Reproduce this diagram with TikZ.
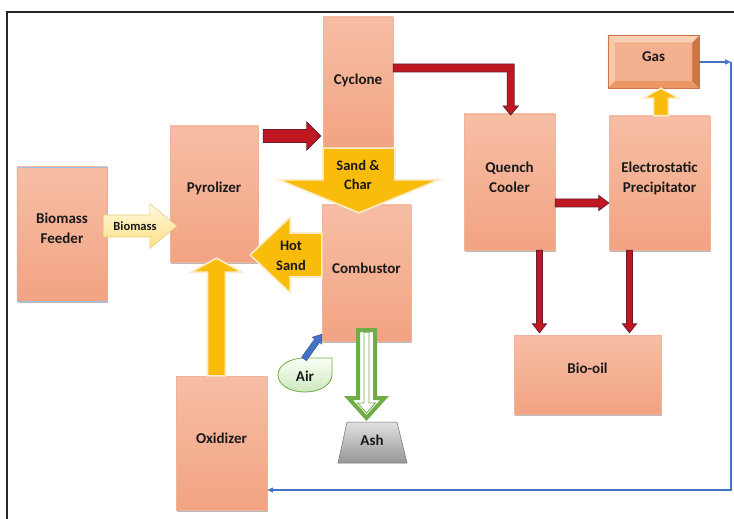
\documentclass[tikz,border=0pt]{standalone}
\usepackage{fontspec}
\setmainfont{Carlito}
\usetikzlibrary{calc,arrows.meta,shadows}
\definecolor{boxtop}{RGB}{247,190,165}
\definecolor{boxbot}{RGB}{242,163,130}
\definecolor{boxline}{RGB}{238,180,155}
\definecolor{feedline}{RGB}{160,190,225}
\definecolor{redfill}{RGB}{192,24,34}
\definecolor{rededge}{RGB}{105,28,48}
\definecolor{yelfill}{RGB}{250,188,10}
\definecolor{yeledge}{RGB}{250,236,200}
\definecolor{creamtop}{RGB}{255,250,225}
\definecolor{creambot}{RGB}{255,222,130}
\definecolor{creamedge}{RGB}{230,205,130}
\definecolor{grnline}{RGB}{112,173,71}
\definecolor{flowblue}{RGB}{68,114,196}
\definecolor{gasouter}{RGB}{236,152,100}
\definecolor{gasinner}{RGB}{244,175,142}
\definecolor{gaslight}{RGB}{250,208,180}
\definecolor{gasdark}{RGB}{205,118,68}
\definecolor{airtop}{RGB}{250,255,245}
\definecolor{airbot}{RGB}{205,232,190}
\definecolor{ashtop}{RGB}{225,225,225}
\definecolor{ashbot}{RGB}{150,150,150}
\newcommand\blockarrow[6]{%
  \coordinate (bas) at #2; \coordinate (bae) at #3;
  \coordinate (bah) at ($(bae)!#6!(bas)$);
  \path[#1] ($(bas)!#4!90:(bae)$) -- ($(bah)!#4!-90:(bas)$) -- ($(bah)!#5!-90:(bas)$) -- (bae) -- ($(bah)!#5!90:(bas)$) -- ($(bah)!#4!90:(bas)$) -- ($(bas)!#4!-90:(bae)$) -- cycle;}
\tikzset{
 box/.style={rectangle, draw=boxline, line width=0.4bp, top color=boxtop, bottom color=boxbot, inner sep=0pt,
   drop shadow={shadow xshift=0.6bp, shadow yshift=-1.6bp, opacity=0.45, fill=black!60}},
 lbl/.style={font=\fontsize{15bp}{20bp}\selectfont\bfseries, align=center, text=black!90, inner sep=0pt},
 albl/.style={font=\fontsize{14.5bp}{19.5bp}\selectfont\bfseries, align=center, text=black!90, inner sep=0pt},
 slbl/.style={font=\fontsize{12.5bp}{15bp}\selectfont\bfseries, text=black!90, inner sep=0pt},
 redarr/.style={fill=redfill, draw=rededge, line width=0.8bp, line join=miter},
 yelarr/.style={fill=yelfill, draw=yeledge, line width=1.6bp},
 cream/.style={top color=creamtop, bottom color=creambot, draw=creamedge, line width=0.6bp},
 grnout/.style={fill=white, draw=grnline, line width=4bp, line join=miter},
 grnin/.style={draw=grnline, line width=0.8bp},
 bluearr/.style={fill=flowblue, draw=flowblue!70!black, line width=0.4bp},
 flow/.style={draw=flowblue, line width=1.2bp}
}
\begin{document}
\begin{tikzpicture}[x=1bp,y=-1bp]
\useasboundingbox (0,0) rectangle (734,519);
\fill[white] (0,0) rectangle (734,519);
\draw[line width=1.2bp, black!85] (7,519) -- (7,12) -- (734,12);

% boxes
\node[box, draw=feedline, minimum width=90bp, minimum height=134bp] (feeder) at (62,234) {};
\node[box, minimum width=88bp, minimum height=136bp] (pyro) at (214,194) {};
\node[box, minimum width=70bp, minimum height=130bp] (cyclone) at (358,82) {};
\node[box, minimum width=89bp, minimum height=136bp] (combustor) at (366.5,273) {};
\node[box, minimum width=91bp, minimum height=136bp] (quench) at (509.5,182) {};
\node[box, minimum width=101bp, minimum height=134bp] (esp) at (659.5,183) {};
\node[box, minimum width=147bp, minimum height=79bp] (biooil) at (587.5,374.5) {};
\node[box, minimum width=91bp, minimum height=134bp] (oxid) at (221.5,443) {};

% gas box (bevelled)
\node[rectangle, fill=gasouter, draw=gasdark, line width=0.5bp, minimum width=91bp, minimum height=52bp, inner sep=0pt] (gas) at (653.5,62) {};
\fill[gaslight] (gas.north west) -- (gas.north east) -- ($(gas.north east)+(-7,7)$) -- ($(gas.north west)+(7,7)$) -- cycle;
\fill[gaslight!85!gasouter] (gas.north west) -- ($(gas.north west)+(7,7)$) -- ($(gas.south west)+(7,-7)$) -- (gas.south west) -- cycle;
\fill[gasdark] (gas.north east) -- (gas.south east) -- ($(gas.south east)+(-7,-7)$) -- ($(gas.north east)+(-7,7)$) -- cycle;
\fill[gasouter] (gas.south west) -- (gas.south east) -- ($(gas.south east)+(-7,-7)$) -- ($(gas.south west)+(7,-7)$) -- cycle;
\fill[gasinner] ($(gas.north west)+(7,7)$) rectangle ($(gas.south east)+(-7,-7)$);
\draw[gasdark, line width=0.5bp] (gas.north west) rectangle (gas.south east);

% ash
\coordinate (ashtop) at (372,422);
\path[top color=ashtop, bottom color=ashbot, draw=black!55, line width=0.5bp]
  ($(ashtop)+(-25,0)$) -- ($(ashtop)+(25,0)$) -- ($(ashtop)+(35,41)$) -- ($(ashtop)+(-34,41)$) -- cycle;

% air
\path[top color=airtop, bottom color=airbot, draw=grnline, line width=0.8bp]
  (332,358) -- (332,374) .. controls (332,385) and (320,392) .. (305,392)
  .. controls (290,392) and (278,385) .. (278,375)
  .. controls (278,365) and (290,358) .. (305,358) -- cycle;

% arrows
\blockarrow{cream}{($(feeder.east)+(-4,-8)$)}{($(pyro.west)+(7,32)$)}{11bp}{22.5bp}{27bp}
\blockarrow{redarr}{($(pyro.east)+(5,-58)$)}{($(cyclone.west)+(-2,54)$)}{6.5bp}{14bp}{14bp}
\path[redarr] ($(cyclone.east)+(0,-18)$) -- ++(121,0) -- ++(0,42) -- ++(4,0) -- ++(-7.5,9) -- ++(-7.5,-9) -- ++(4,0) -- ++(0,-34) -- ++(-114,0) -- cycle;
\blockarrow{redarr}{($(quench.east)+(0,21)$)}{($(esp.west)+(0,20)$)}{4bp}{7.5bp}{10bp}
\blockarrow{redarr}{($(quench.south)+(30,0)$)}{($(biooil.north)+(-48,-2)$)}{3bp}{7bp}{9bp}
\blockarrow{redarr}{($(esp.south)+(-30,0)$)}{($(biooil.north)+(42,-2)$)}{3bp}{7bp}{9bp}
\blockarrow{yelarr}{($(cyclone.south)+(1,1)$)}{($(combustor.north)+(-7.5,8)$)}{36bp}{80bp}{33bp}
\blockarrow{yelarr}{($(combustor.west)+(0,-18)$)}{($(pyro.east)+(-8,61)$)}{22bp}{38bp}{40bp}
\blockarrow{yelarr}{($(oxid.north)+(-5,0)$)}{($(pyro.south)+(2.5,-4)$)}{9bp}{25.5bp}{14bp}
\blockarrow{yelarr}{($(esp.north)+(1.5,0)$)}{($(gas.south)+(7.5,0)$)}{7.5bp}{18bp}{10bp}
\blockarrow{grnout}{($(combustor.south)+(0,-11)$)}{($(ashtop)+(-5.5,-4)$)}{8.5bp}{18bp}{20bp}
\blockarrow{grnin}{($(combustor.south)+(0,-9)$)}{($(ashtop)+(-5.5,-9)$)}{2.5bp}{9bp}{10bp}
\blockarrow{bluearr}{(304,359)}{($(combustor.south west)+(0,-7)$)}{3bp}{6bp}{8bp}

% blue return line
\coordinate (ne) at (731,62);
\coordinate (se) at (731,490);
\draw[flow, -{Triangle[length=6bp,width=5bp]}] (gas.east) -- (ne);
\draw[flow, -{Triangle[length=6bp,width=5bp]}] (ne) -- (se) -- (oxid.east |- se);

% labels
\node[lbl] (feedert) at (62,228) {Biomass\\Feeder};
\node[lbl] (pyrot) at (214,188) {Pyrolizer};
\node[lbl] (cyclonet) at (358,80) {Cyclone};
\node[lbl] (combustort) at (366.5,268) {Combustor};
\node[lbl] (quencht) at (509.5,177) {Quench\\Cooler};
\node[lbl] (espt) at (659.5,178) {Electrostatic\\Precipitator};
\node[lbl] (biooilt) at (587.5,368) {Bio-oil};
\node[lbl] (oxidt) at (221.5,438) {Oxidizer};
\node[lbl] (gast) at (653.5,57) {Gas};
\node[albl] (sandchar) at (358,175) {Sand \&\\Char};
\node[albl] (hotsand) at (291,256) {Hot\\Sand};
\node[slbl] (biomasst) at (135,226) {Biomass};
\node[lbl] (air) at (305,376) {Air};
\node[lbl] (ash) at (372,440) {Ash};
\end{tikzpicture}
\end{document}
